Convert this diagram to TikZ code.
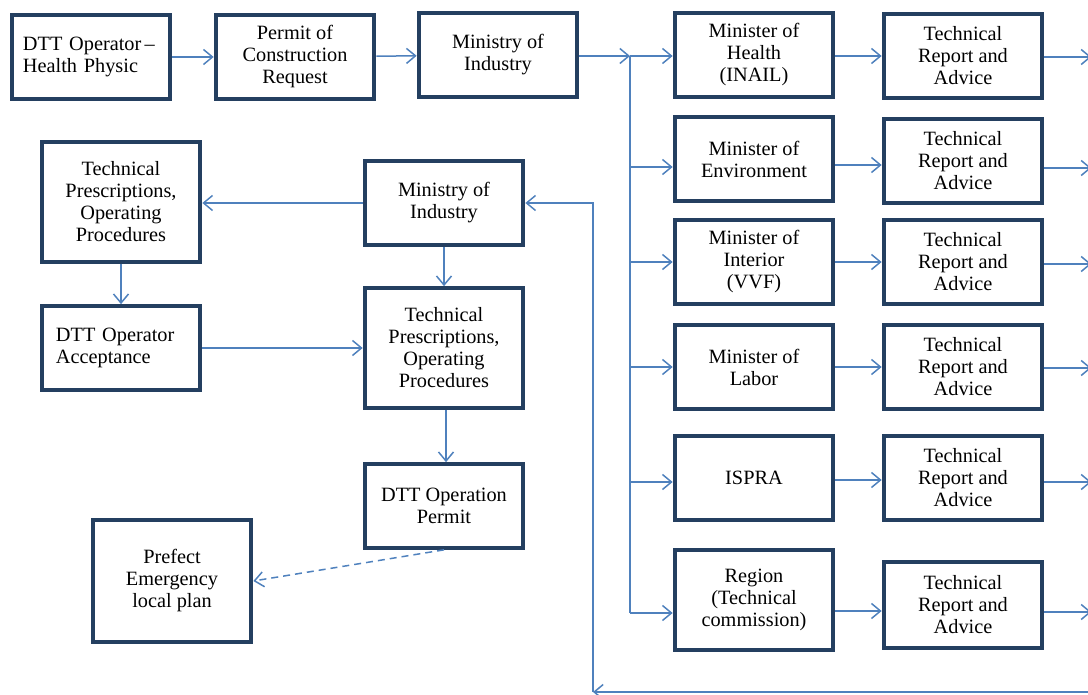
\documentclass[tikz,border=0pt]{standalone}
\usepackage{fontspec}
\setmainfont{Liberation Serif}
\usetikzlibrary{arrows.meta}

\definecolor{boxblue}{HTML}{243F60}
\definecolor{lineblue}{HTML}{4F81BD}

\begin{document}
\begin{tikzpicture}[x=1pt,y=-1pt,
    box/.style={draw=boxblue,line width=4.2pt,fill=white,align=center,
        minimum width=158.5pt,minimum height=83.5pt,inner sep=2pt,
        font=\fontsize{20.3}{22}\selectfont},
    tallbox/.style={box,minimum height=119.5pt},
    arr/.style={draw=lineblue,line width=1.5pt,
        -{Straight Barb[length=9pt,width=15pt]}},
    link/.style={draw=lineblue,line width=1.5pt}]

% Frame of the page
\useasboundingbox (0,0) rectangle (1088,695);
\clip (0,0) rectangle (1088,695);

% Request chain (top row)
\node[box,align=left,text width=136pt] (op) at (91,57) {DTT Operator\,--\\Health Physic};
\node[box] (perm) at (295,57) {Permit of\\Construction\\Request};
\node[box] (mi1) at (498,55) {Ministry of\\Industry};

% Consulted bodies
\node[box] (health) at (754,55) {Minister of\\Health\\(INAIL)};
\node[box] (env) at (754,159) {Minister of\\Environment};
\node[box] (inter) at (754,262) {Minister of\\Interior\\(VVF)};
\node[box] (labor) at (754,367) {Minister of\\Labor};
\node[box] (ispra) at (754,478) {ISPRA};
\node[box,minimum height=100.5pt] (region) at (754,600) {Region\\(Technical\\commission)};

% Technical reports
\node[box] (rep1) at (963,56) {Technical\\Report and\\Advice};
\node[box] (rep2) at (963,161) {Technical\\Report and\\Advice};
\node[box] (rep3) at (963,262) {Technical\\Report and\\Advice};
\node[box] (rep4) at (963,367) {Technical\\Report and\\Advice};
\node[box] (rep5) at (963,478) {Technical\\Report and\\Advice};
\node[box,minimum height=85.5pt] (rep6) at (963,605) {Technical\\Report and\\Advice};

% Return path (left part)
\node[box] (mi2) at (444,203) {Ministry of\\Industry};
\node[tallbox] (tpl) at (121,202) {Technical\\Prescriptions,\\Operating\\Procedures};
\node[box,align=left,text width=130pt] (acc) at (121,348) {DTT Operator\\Acceptance};
\node[tallbox] (tpm) at (444,348) {Technical\\Prescriptions,\\Operating\\Procedures};
\node[box] (opp) at (444,506) {DTT Operation\\Permit};
\node[box,minimum height=122.5pt] (pref) at (172,581) {Prefect\\Emergency\\local plan};

% Helper points
\coordinate (split) at (630,56);
\coordinate (envIn) at ([yshift=-8pt]env.west);
\coordinate (ispraIn) at ([yshift=-4pt]ispra.west);
\coordinate (regIn) at ([yshift=-13pt]region.west);
\coordinate (r2In) at ([yshift=-4pt]rep2.west);
\coordinate (r5In) at ([yshift=-2pt]rep5.west);
\coordinate (r6In) at ([yshift=-6pt]rep6.west);
\coordinate (fbR) at (1095,692);
\coordinate (fbL) at (593,692);

% Top row arrows
\draw[arr] (op) -- (perm);
\draw[arr] (perm) -- (mi1);
\draw[arr] (mi1.east |- split) -- (split);

% Distribution to the bodies
\draw[link] (split) -- (split |- regIn);
\draw[arr] (split) -- (health.west |- split);
\draw[arr] (split |- envIn) -- (envIn);
\draw[arr] (split |- inter.west) -- (inter.west);
\draw[arr] (split |- labor.west) -- (labor.west);
\draw[arr] (split |- ispraIn) -- (ispraIn);
\draw[arr] (split |- regIn) -- (regIn);

% Bodies to reports
\draw[arr] (health.east |- rep1) -- (rep1);
\draw[arr] (env.east |- r2In) -- (r2In);
\draw[arr] (inter) -- (rep3);
\draw[arr] (labor) -- (rep4);
\draw[arr] (ispra.east |- r5In) -- (r5In);
\draw[arr] (region.east |- r6In) -- (r6In);

% Reports leaving to the right
\foreach \r/\dy in {rep1/-1,rep2/-7,rep3/-2,rep4/-1,rep5/-4,rep6/-7}
    \draw[arr] ([yshift=\dy pt]\r.east) -- ++(47,0);

% Feedback to the ministry
\draw[arr] (fbR) -- (fbL);
\draw[arr] (fbL) |- (mi2.east);

% Left part
\draw[arr] (mi2) -- (tpl.east |- mi2);
\draw[arr] (tpl) -- (acc);
\draw[arr] (acc) -- (tpm.west |- acc);
\draw[arr] (mi2) -- (tpm);
\draw[arr] ([xshift=2pt]tpm.south) -- ([xshift=2pt]opp.north);
\draw[arr,dashed,dash pattern=on 7pt off 5pt] (opp.south) -- (pref.east);

\end{tikzpicture}
\end{document}
